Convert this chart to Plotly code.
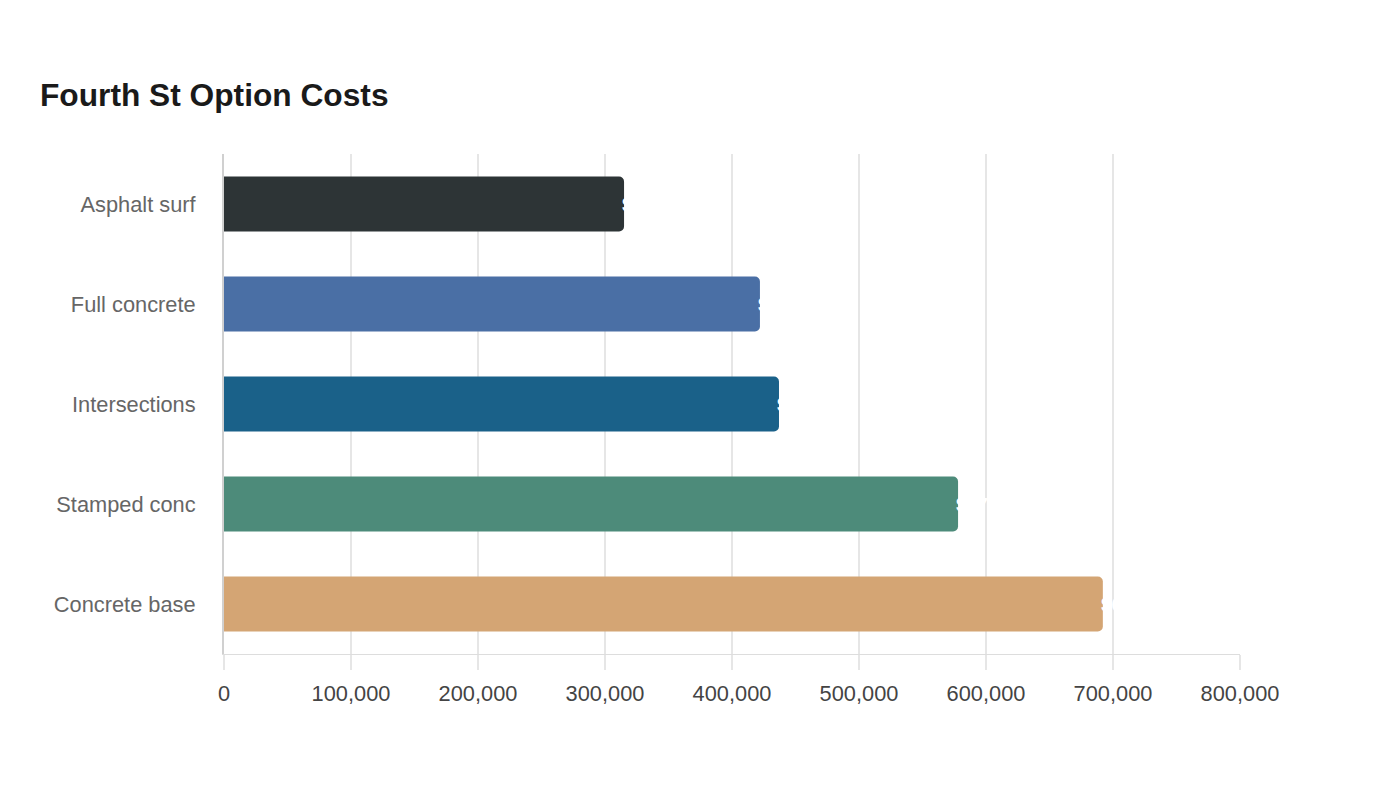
import plotly.graph_objects as go

categories = ["Asphalt surf", "Full concrete", "Intersections", "Stamped conc", "Concrete base"]
costs = [315000, 422000, 437000, 578000, 692000]
colors = ["#2d3436", "#4a6fa5", "#1a6189", "#4d8b7a", "#d4a574"]
x_ticks = [0, 100000, 200000, 300000, 400000, 500000, 600000, 700000, 800000]
x_tick_labels = ["0", "100,000", "200,000", "300,000", "400,000", "500,000", "600,000", "700,000", "800,000"]

FONT = "Liberation Sans, Arial, sans-serif"

fig = go.Figure(go.Bar(
    x=costs,
    y=categories,
    orientation="h",
    marker=dict(color=colors, cornerradius=5, line=dict(width=0)),
    hoverinfo="skip",
))

for c, v in zip(categories, costs):
    fig.add_annotation(
        x=v, y=c, xref="x", yref="y",
        text="<b>${:,.0f}</b>".format(v),
        showarrow=False,
        xanchor="left",
        yanchor="middle",
        xshift=-4,
        font=dict(color="#ffffff", size=19, family=FONT),
    )

fig.update_layout(
    width=1400,
    height=800,
    paper_bgcolor="#ffffff",
    plot_bgcolor="#ffffff",
    margin=dict(l=224, r=160, t=154, b=146),
    bargap=0.45,
    showlegend=False,
    font=dict(family=FONT),
    title=dict(
        text="<b>Fourth St Option Costs</b>",
        x=40 / 1400,
        xref="container",
        xanchor="left",
        y=1 - 95 / 800,
        yref="container",
        yanchor="middle",
        font=dict(size=31.7, color="#1a1a1a", family=FONT),
    ),
    xaxis=dict(
        range=[0, 800000],
        tickvals=x_ticks,
        ticktext=x_tick_labels,
        showgrid=True,
        gridcolor="#e6e6e6",
        gridwidth=2,
        zeroline=False,
        showline=True,
        linecolor="#dddddd",
        linewidth=1,
        ticks="outside",
        ticklen=15,
        tickwidth=2,
        tickcolor="#e6e6e6",
        tickfont=dict(size=21.8, color="#444444"),
        ticklabelstandoff=5,
    ),
    yaxis=dict(
        categoryorder="array",
        categoryarray=categories,
        autorange="reversed",
        showgrid=False,
        showline=True,
        linecolor="#d0d0d0",
        linewidth=2,
        ticks="",
        tickfont=dict(size=21.8, color="#666666"),
        ticklabelstandoff=22,
    ),
)

fig.write_html("out.html")
